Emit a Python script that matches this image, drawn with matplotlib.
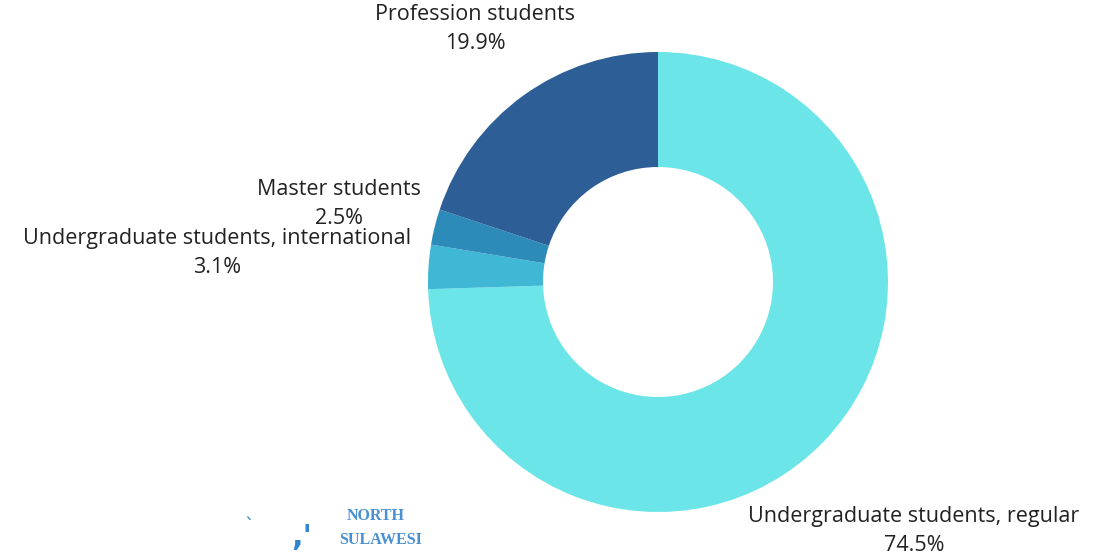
import numpy as np
import matplotlib.pyplot as plt

labels = ['Undergraduate students, regular', 'Undergraduate students, international',
          'Master students', 'Profession students']
values = [74.5, 3.1, 2.5, 19.9]
colors = ['#6be5e8', '#40b8d5', '#2c8bb8', '#2d5e96']

# label distance from centre (in radii) for each slice
label_dist = [1.55, 1.92, 1.43, 1.36]

fig = plt.figure(figsize=(11.15, 5.6), dpi=100)
ax = fig.add_axes([0, 0, 1, 1])

cx, cy, R = 658, 278, 230
wedges, _ = ax.pie(values, colors=colors, startangle=90, counterclock=False,
                   radius=R, center=(cx, cy), frame=True,
                   wedgeprops=dict(width=R * 0.5, linewidth=0))
ax.set_xlim(0, 1115)
ax.set_ylim(0, 560)
ax.axis('off')

for w, lab, v, d in zip(wedges, labels, values, label_dist):
    ang = np.deg2rad((w.theta1 + w.theta2) / 2)
    x = cx + d * R * np.cos(ang)
    y = cy + d * R * np.sin(ang)
    ax.text(x, y + 14, lab, ha='center', va='center', fontsize=15.5,
            family='Open Sans', color='#222222')
    ax.text(x, y - 15, f'{v}%', ha='center', va='center', fontsize=15.5,
            family='Open Sans', color='#222222')

# logo
ax.text(376, 44, 'NORTH', ha='center', va='center', fontsize=11.5,
        family='Liberation Serif', color='#4a90d0', fontweight='bold')
ax.text(381, 20, 'SULAWESI', ha='center', va='center', fontsize=11.5,
        family='Liberation Serif', color='#4a90d0', fontweight='bold')
ax.text(249, 34, '`', ha='center', va='center', fontsize=14, color='#2f86d0')
ax.text(302, 22, ",'", ha='center', va='center', fontsize=22, color='#2f86d0',
        fontweight='bold')

fig.savefig('out.png', dpi=100)
